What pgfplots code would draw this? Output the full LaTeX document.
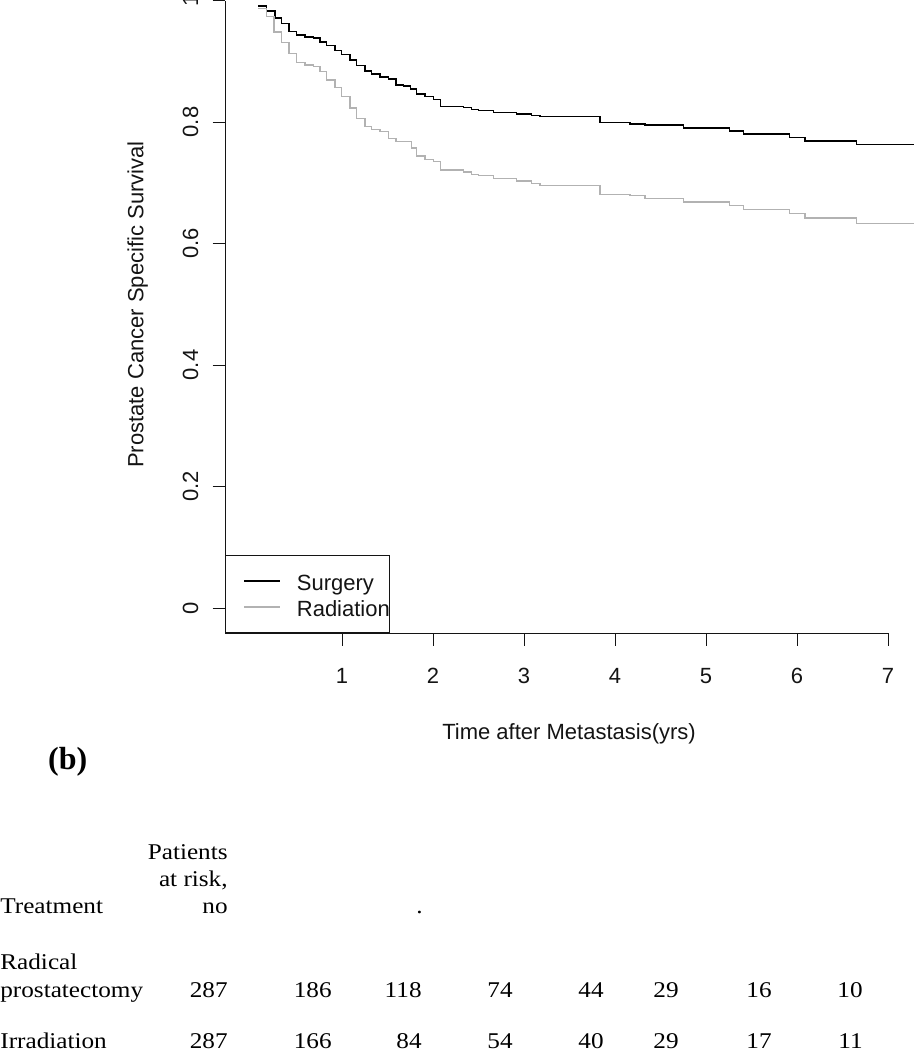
\documentclass[border=0pt]{standalone}
\usepackage{fontspec}
\setmainfont{Liberation Sans}
\newfontfamily\tabfont[FakeStretch=1.12]{Liberation Serif}
\newfontfamily\bfont{Liberation Serif}
\usepackage{pgfplots}
\pgfplotsset{compat=1.18}
\definecolor{survgray}{RGB}{178,178,178}
\definecolor{axcol}{RGB}{20,20,20}

\pgfplotstableread{
t S
0.080 0.991
0.172 0.983
0.262 0.971
0.337 0.962
0.418 0.949
0.502 0.943
0.593 0.940
0.685 0.938
0.758 0.932
0.832 0.926
0.923 0.918
0.996 0.911
1.088 0.902
1.161 0.893
1.253 0.884
1.326 0.879
1.418 0.874
1.509 0.871
1.593 0.861
1.674 0.859
1.755 0.854
1.820 0.846
1.912 0.842
2.004 0.837
2.085 0.826
2.333 0.824
2.425 0.821
2.498 0.819
2.663 0.816
2.920 0.813
3.085 0.811
3.176 0.809
3.835 0.799
4.165 0.797
4.330 0.795
4.751 0.790
5.256 0.785
5.410 0.780
5.916 0.774
6.088 0.769
6.656 0.763
7.290 0.763
}\surgery

\pgfplotstableread{
t S
0.080 0.987
0.172 0.974
0.253 0.948
0.337 0.931
0.418 0.913
0.502 0.898
0.593 0.894
0.685 0.891
0.758 0.883
0.832 0.869
0.923 0.857
0.996 0.842
1.088 0.823
1.161 0.806
1.253 0.793
1.326 0.788
1.418 0.784
1.509 0.773
1.593 0.768
1.766 0.757
1.820 0.744
1.912 0.738
2.004 0.735
2.085 0.721
2.333 0.718
2.425 0.714
2.498 0.712
2.663 0.707
2.920 0.703
3.085 0.699
3.176 0.695
3.835 0.681
4.165 0.679
4.330 0.674
4.751 0.668
5.256 0.663
5.410 0.656
5.916 0.649
6.088 0.642
6.656 0.633
7.290 0.633
}\radiation

\begin{document}
\begin{tikzpicture}
\begin{axis}[
  at={(112.5pt,-316.5pt)}, anchor=south west,
  scale only axis, width=331.5pt, height=316.25pt,
  xmin=-0.2857, xmax=7, ymin=-0.04115, ymax=1,
  axis lines*=left,
  axis line style={line width=0.5pt, color=axcol},
  tick style={line width=0.5pt, color=axcol},
  tick align=outside,
  major tick length=6.25pt,
  clip=false,
  font=\fontsize{11pt}{13pt}\selectfont,
  xtick={1,2,3,4,5,6,7}, xticklabels={1,2,3,4,5,6,7},
  ytick={0,0.2,0.4,0.6,0.8,1}, yticklabels={0,0.2,0.4,0.6,0.8,1},
  xticklabel style={anchor=base, yshift=-19pt, color=axcol},
  yticklabel style={xshift=-7.25pt, rotate=90, anchor=base, color=axcol},
  xlabel={Time after Metastasis(yrs)},
  ylabel={Prostate Cancer Specific Survival},
  every axis x label/.style={at={(axis description cs:0.5189,-0.1676)}, anchor=base, color=axcol},
  every axis y label/.style={at={(axis description cs:-0.1232,0.5194)}, anchor=base, rotate=90, color=axcol},
  legend style={at={(0,0)}, anchor=south west, draw=axcol, line width=0.5pt, fill=white,
    inner xsep=0pt, inner ysep=6.5pt, row sep=0.5pt,
    font=\fontsize{11pt}{13pt}\selectfont,
    nodes={inner sep=0pt, text height=11pt, text depth=1.5pt, text=axcol}},
  legend cell align=left,
  legend image code/.code={\path (0pt,0pt) (35pt,0pt); \draw[#1] (9pt,0pt) -- (27pt,0pt);},
]
\addplot[const plot mark left, line width=0.7pt, color=black] table[x=t, y=S] {\surgery};
\addlegendentry{Surgery}
\addplot[const plot mark left, line width=0.7pt, color=survgray] table[x=t, y=S] {\radiation};
\addlegendentry{Radiation}
\end{axis}

\begin{scope}[x=0.5pt, y=-0.5pt, every node/.style={inner sep=0pt, font=\tabfont\fontsize{11.25pt}{13pt}\selectfont}]
\node[anchor=base west, font=\bfont\bfseries\fontsize{16pt}{18pt}\selectfont] at (47.7,769) {(b)};
\node[anchor=base east] at (228,859) {Patients};
\node[anchor=base east] at (228,886) {at risk,};
\node[anchor=base east] at (228,913) {no};
\node[anchor=base west] at (0,913) {Treatment};
\node[anchor=base east] at (423,913) {.};
\node[anchor=base west] at (0,969) {Radical};
\node[anchor=base west] at (0,997) {prostatectomy};
\node[anchor=base west] at (0,1048) {Irradiation};
\foreach \x/\v in {228/287, 332/186, 422/118, 513/74, 604/44, 679/29, 772/16, 863/10}
  \node[anchor=base east] at (\x,997) {\v};
\foreach \x/\v in {228/287, 332/166, 422/84, 513/54, 604/40, 679/29, 772/17, 863/11}
  \node[anchor=base east] at (\x,1048) {\v};
\end{scope}

\pgfresetboundingbox
\path[use as bounding box] (0pt,0pt) rectangle (457pt,-525pt);
\end{tikzpicture}
\end{document}
